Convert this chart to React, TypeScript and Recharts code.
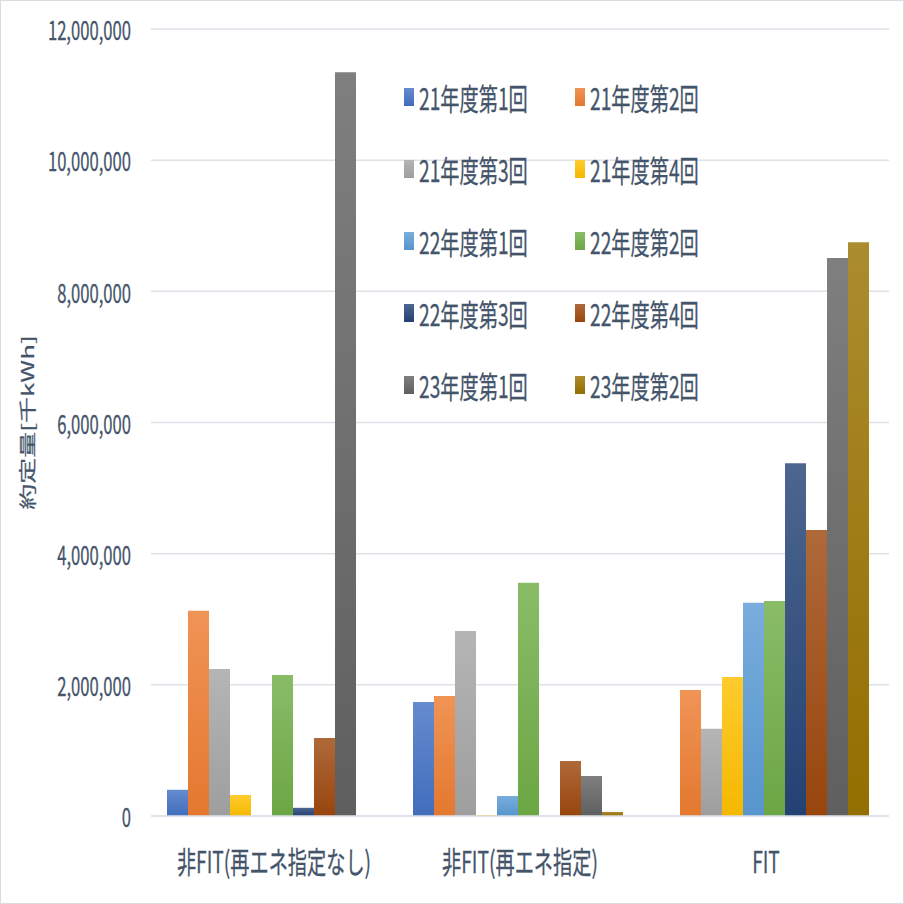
import React from 'react';
import { BarChart, Bar, XAxis, YAxis, CartesianGrid, Legend } from 'recharts';

const categories = ['非FIT(再エネ指定なし)', '非FIT(再エネ指定)', 'FIT'];

const seriesNames = [
  '21年度第1回', '21年度第2回', '21年度第3回', '21年度第4回', '22年度第1回',
  '22年度第2回', '22年度第3回', '22年度第4回', '23年度第1回', '23年度第2回',
];

const seriesColors = [
  '#4472C4', '#ED7D31', '#A5A5A5', '#FFC000', '#5B9BD5',
  '#70AD47', '#264478', '#9E480E', '#636363', '#997300',
];

const s21_1 = [400000, 1740000, 0];
const s21_2 = [3130000, 1830000, 1920000];
const s21_3 = [2240000, 2820000, 1330000];
const s21_4 = [320000, 15000, 2120000];
const s22_1 = [0, 305000, 3250000];
const s22_2 = [2150000, 3555000, 3280000];
const s22_3 = [125000, 0, 5380000];
const s22_4 = [1190000, 840000, 4360000];
const s23_1 = [11340000, 610000, 8510000];
const s23_2 = [0, 62000, 8750000];

const seriesValues = [s21_1, s21_2, s21_3, s21_4, s22_1, s22_2, s22_3, s22_4, s23_1, s23_2];

const yTicks = [0, 2000000, 4000000, 6000000, 8000000, 10000000, 12000000];

const data = categories.map((c, i) => {
  const row: Record<string, any> = { name: c };
  seriesNames.forEach((s, j) => {
    row[s] = seriesValues[j][i];
  });
  return row;
});

const TEXT = '#44546A';
const FONT = '"Noto Sans CJK JP", "Noto Sans", sans-serif';
const SQX = 0.64;

function mix(hex: string, target: number, amt: number) {
  const n = parseInt(hex.slice(1), 16);
  const r = (n >> 16) & 255, g = (n >> 8) & 255, b = n & 255;
  const f = (v: number) => Math.round(v + (target - v) * amt);
  return `rgb(${f(r)},${f(g)},${f(b)})`;
}

const YTick = (props: any) => {
  const { x, y, payload } = props;
  return (
    <g transform={`translate(${x - 12},${y})`}>
      <text transform={`scale(${SQX},1)`} textAnchor="end" dominantBaseline="central"
        fontSize={26} fill={TEXT} fontFamily={FONT} stroke={TEXT} strokeWidth={0.3}>
        {Number(payload.value).toLocaleString('en-US')}
      </text>
    </g>
  );
};

const XTick = (props: any) => {
  const { x, y, payload } = props;
  return (
    <g transform={`translate(${x},${y + 36})`}>
      <text transform={`scale(${SQX},1)`} textAnchor="middle" dominantBaseline="central"
        fontSize={30} fill={TEXT} fontFamily={FONT} stroke={TEXT} strokeWidth={0.3}>
        {payload.value}
      </text>
    </g>
  );
};

const YLabel = (props: any) => {
  const vb = props.viewBox || {};
  const cy = (vb.y ?? 29) + (vb.height ?? 787) / 2;
  return (
    <g transform={`translate(27,${cy}) rotate(-90) scale(1,${SQX})`}>
      <text textAnchor="middle" dominantBaseline="central" fontSize={26} fill={TEXT} fontFamily={FONT}
        stroke={TEXT} strokeWidth={0.3}>
        約定量[千kWh]
      </text>
    </g>
  );
};

const LegendContent = (props: any) => {
  const payload = props.payload || [];
  return (
    <div style={{ position: 'relative', width: 904, height: 904 }}>
      {payload.map((p: any, i: number) => {
        const idx = seriesNames.indexOf(p.value);
        const c = seriesColors[idx >= 0 ? idx : i];
        const col = i % 2;
        const row = Math.floor(i / 2);
        const left = 404 + col * 171;
        const top = 97 + row * 72;
        return (
          <div key={i} style={{ position: 'absolute', left, top: top - 20, height: 40, width: 170 }}>
            <div style={{
              position: 'absolute', left: 0, top: 11, width: 10, height: 18,
              background: `linear-gradient(${mix(c, 255, 0.18)}, ${mix(c, 0, 0.04)})`,
            }} />
            <div style={{
              position: 'absolute', left: 15, top: 0, height: 40, lineHeight: '40px', whiteSpace: 'nowrap',
              fontSize: 30, color: TEXT, fontFamily: FONT, transform: `scaleX(${SQX})`, transformOrigin: 'left center',
              WebkitTextStroke: `0.3px ${TEXT}`,
            }}>{p.value}</div>
          </div>
        );
      })}
    </div>
  );
};

export default function App() {
  return (
    <div style={{ position: 'absolute', left: 0, top: 0, width: 902, height: 902, border: '1px solid #D9DCE3', background: '#fff' }}>
      <div style={{ position: 'absolute', left: -1, top: -1 }}>
        <BarChart width={904} height={904} data={data}
          margin={{ top: 29, right: 15, left: 0, bottom: 0 }}
          barCategoryGap={16} barGap={0}>
          <defs>
            {seriesColors.map((c, i) => (
              <linearGradient key={i} id={`grad${i}`} x1="0" y1="0" x2="0" y2="1">
                <stop offset="0%" stopColor={mix(c, 255, 0.18)} />
                <stop offset="100%" stopColor={mix(c, 0, 0.04)} />
              </linearGradient>
            ))}
          </defs>
          <CartesianGrid vertical={false} stroke="#DDE1E8" strokeWidth={1.5} />
          <XAxis dataKey="name" height={88} tickLine={false} axisLine={{ stroke: '#DDE1E8', strokeWidth: 1.5 }}
            tick={<XTick />} interval={0} />
          <YAxis width={151} domain={[0, 12000000]} ticks={yTicks} tickLine={false} axisLine={false}
            tick={<YTick />} label={<YLabel />} />
          <Legend layout="horizontal" verticalAlign="middle" align="center"
            wrapperStyle={{ left: 0, top: 0, width: 904, height: 904, pointerEvents: 'none' }}
            content={<LegendContent />} />
          {seriesNames.map((s, i) => (
            <Bar key={s} dataKey={s} fill={`url(#grad${i})`} isAnimationActive={false}
              legendType="square" />
          ))}
        </BarChart>
      </div>
    </div>
  );
}
